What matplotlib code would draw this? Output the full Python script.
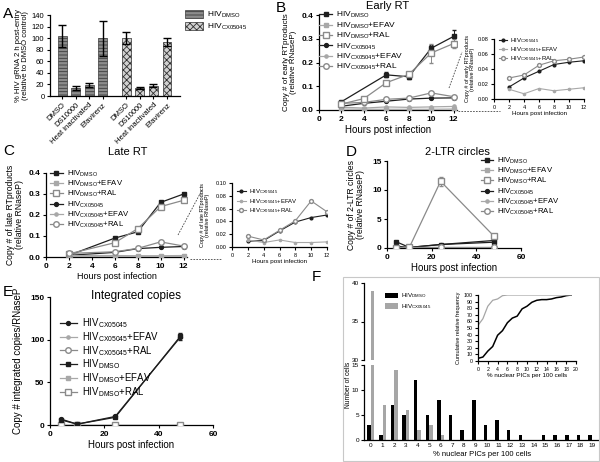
import matplotlib
matplotlib.use('Agg')
import matplotlib.pyplot as plt
from matplotlib.patches import Patch, Rectangle
from matplotlib.lines import Line2D
import numpy as np

plt.rcParams['font.family'] = ['Liberation Sans', 'DejaVu Sans']
plt.rcParams['mathtext.default'] = 'regular'
plt.rcParams['hatch.linewidth'] = 0.6

W, H = 600, 462

# ---- data ----
a_labels = ['DMSO', 'DS10000', 'Heat inactivated', 'Efavirenz']
a_dmso = [103, 14, 19, 100]
a_dmso_err = [19, 3, 4, 30]
a_cx = [100, 14, 18, 94]
a_cx_err = [10, 2, 2, 7]

b_hours = [2, 4, 6, 8, 10, 12]
b_hours_dmso = [2, 6, 8, 10, 12]
b_dmso = [0.035, 0.148, 0.14, 0.26, 0.31]
b_dmso_err = [0.004, 0.01, 0.008, 0.015, 0.025]
b_dmso_efav = [0.004, 0.003, 0.003, 0.003, 0.003, 0.004]
b_dmso_ral = [0.025, 0.048, 0.115, 0.15, 0.24, 0.28]
b_dmso_ral_err = [0.003, 0.004, 0.006, 0.008, 0.04, 0.02]
b_cx = [0.016, 0.028, 0.037, 0.046, 0.05, 0.051]
b_cx_efav = [0.012, 0.008, 0.013, 0.011, 0.013, 0.015]
b_cx_ral = [0.028, 0.032, 0.045, 0.05, 0.072, 0.056]

bi_cx = [0.016, 0.028, 0.037, 0.046, 0.049, 0.051]
bi_cx_efav = [0.013, 0.007, 0.014, 0.011, 0.013, 0.015]
bi_cx_ral = [0.028, 0.032, 0.045, 0.051, 0.053, 0.056]

c_hours = [2, 6, 8, 10, 12]
c_dmso = [0.008, 0.09, 0.12, 0.26, 0.30]
c_dmso_efav = [0.003, 0.003, 0.003, 0.003, 0.003]
c_dmso_ral = [0.015, 0.068, 0.135, 0.24, 0.27]
c_cx = [0.008, 0.022, 0.04, 0.046, 0.05]
c_cx_efav = [0.007, 0.007, 0.006, 0.006, 0.007]
c_cx_ral = [0.017, 0.025, 0.041, 0.072, 0.052]

ci_hours = [2, 4, 6, 8, 10, 12]
ci_cx = [0.009, 0.010, 0.025, 0.039, 0.046, 0.050]
ci_cx_efav = [0.011, 0.007, 0.011, 0.007, 0.007, 0.008]
ci_cx_ral = [0.017, 0.011, 0.026, 0.041, 0.072, 0.055]

d_hours = [4, 10, 24, 48]
d_dmso = [1.1, 0.1, 0.6, 1.0]
d_dmso_efav = [0.05, 0.05, 0.05, 0.05]
d_dmso_ral = [0.05, 0.1, 11.5, 2.0]
d_cx = [0.3, 0.1, 0.6, 1.3]
d_cx_efav = [0.05, 0.05, 0.05, 0.05]
d_cx_ral = [0.05, 0.1, 0.1, 0.1]

e_hours = [4, 10, 24, 48]
e_cx = [7, 1, 10, 103]
e_cx_efav = [0.5, 0.5, 0.5, 0.5]
e_cx_ral = [0.5, 0.5, 0.5, 0.5]
e_dmso = [6, 1, 9, 104]
e_dmso_efav = [0.5, 0.5, 0.5, 0.5]
e_dmso_ral = [0.5, 0.5, 0.5, 0.5]

f_bins = list(range(20))
f_dmso = [3, 1, 7, 5, 12, 5, 8, 5, 2, 8, 3, 4, 2, 1, 0, 1, 1, 1, 1, 1]
f_cx = [39, 7, 14, 6, 2, 3, 1, 0, 0, 0, 0, 0, 0, 0, 0, 0, 0, 0, 0, 0]
f_cum_dmso = [4, 6, 15, 22, 39, 46, 58, 65, 68, 79, 83, 89, 92, 93, 93, 94, 96, 97, 99, 100]
f_cum_cx = [54, 64, 83, 92, 94, 99, 100, 100, 100, 100, 100, 100, 100, 100, 100, 100, 100, 100, 100, 100]

L_DMSO = 'HIV$_{DMSO}$'
L_CX = 'HIV$_{CX05045}$'
LABELS = {
    'dmso': L_DMSO, 'dmso_efav': L_DMSO + '+EFAV', 'dmso_ral': L_DMSO + '+RAL',
    'cx': L_CX, 'cx_efav': L_CX + '+EFAV', 'cx_ral': L_CX + '+RAL',
}

fig = plt.figure(figsize=(6, 4.62), dpi=100)


def add_ax(l, t, r, b):
    return fig.add_axes([l / W, 1 - b / H, (r - l) / W, (b - t) / H])


def prism(ax, fs=5.5, bold=True, pad=1.5):
    for s in ('top', 'right'):
        ax.spines[s].set_visible(False)
    for s in ('left', 'bottom'):
        ax.spines[s].set_linewidth(0.9)
    ax.tick_params(direction='out', length=2.5, width=0.8, labelsize=fs, pad=pad)
    if bold:
        for t in ax.get_xticklabels() + ax.get_yticklabels():
            t.set_fontweight('bold')


STY = {
    'dmso': dict(color='#1e1e1e', marker='s', ms=3.5, mfc='#1e1e1e', mec='#1e1e1e'),
    'dmso_efav': dict(color='#a8a8a8', marker='s', ms=2.8, mfc='#a8a8a8', mec='#a8a8a8'),
    'dmso_ral': dict(color='#8a8a8a', marker='s', ms=4, mfc='white', mec='#8a8a8a'),
    'cx': dict(color='#1e1e1e', marker='o', ms=2.8, mfc='#1e1e1e', mec='#1e1e1e'),
    'cx_efav': dict(color='#a8a8a8', marker='o', ms=2.3, mfc='#a8a8a8', mec='#a8a8a8'),
    'cx_ral': dict(color='#8a8a8a', marker='o', ms=4, mfc='white', mec='#8a8a8a'),
}


def series(ax, x, y, key, lw=0.9, yerr=None, scale=1.0):
    st = dict(STY[key])
    st['ms'] = st['ms'] * scale
    if yerr is not None:
        ax.errorbar(x, y, yerr=yerr, lw=lw, capsize=1.5, elinewidth=0.7,
                    zorder=3, **st)
    else:
        ax.plot(x, y, lw=lw, zorder=3, **st)


def legend_keys(ax, keys, fs, spacing, anchor, hl=1.6, scale=1.0, lw=0.9):
    handles = []
    for k in keys:
        st = dict(STY[k])
        st['ms'] = st['ms'] * scale
        handles.append(Line2D([], [], lw=lw, **st))
    ax.legend(handles, [LABELS[k] for k in keys], loc='upper left',
              bbox_to_anchor=anchor, frameon=False, fontsize=fs,
              labelspacing=spacing, handlelength=hl, handletextpad=0.5,
              borderpad=0, borderaxespad=0)


def fig_line(x0, y0, x1, y1):
    fig.add_artist(Line2D([x0 / W, x1 / W], [1 - y0 / H, 1 - y1 / H],
                          color='#444444', lw=0.6, ls=(0, (2, 1.5))))


def panel_letter(x, y, s):
    fig.text(x / W, 1 - y / H, s, fontsize=11, ha='left', va='center')


ALL6 = ['dmso', 'dmso_efav', 'dmso_ral', 'cx', 'cx_efav', 'cx_ral']
CX3 = ['cx', 'cx_efav', 'cx_ral']

# ---- A ----
axA = add_ax(50, 15, 180, 96)
xa1 = [0, 1, 2, 3]
xa2 = [4.75, 5.75, 6.75, 7.75]
axA.bar(xa1, a_dmso, width=0.66, color='#8c8c8c', edgecolor='#3a3a3a',
        hatch='-----', lw=0.5, zorder=2)
axA.bar(xa2, a_cx, width=0.66, color='#d0d0d0', edgecolor='#303030',
        hatch='xxxxx', lw=0.5, zorder=2)
axA.errorbar(xa1, a_dmso, yerr=a_dmso_err, fmt='none', ecolor='black',
             elinewidth=1, capsize=3, capthick=1, zorder=3)
axA.errorbar(xa2, a_cx, yerr=a_cx_err, fmt='none', ecolor='black',
             elinewidth=1, capsize=3, capthick=1, zorder=3)
axA.set_xlim(-0.89, 8.71)
axA.set_ylim(0, 140)
axA.set_yticks(range(0, 141, 20))
axA.set_xticks(xa1 + xa2)
axA.set_xticklabels(a_labels + a_labels, rotation=45, ha='right',
                    rotation_mode='anchor')
prism(axA, fs=5.5, bold=False)
axA.set_ylabel('% HIV gRNA 2 h post-entry\n(relative to DMSO control)',
               fontsize=5.5, labelpad=2, linespacing=1.0)
fig.legend([Patch(facecolor='#8c8c8c', edgecolor='#3a3a3a', hatch='-----', lw=0.5),
            Patch(facecolor='#d0d0d0', edgecolor='#303030', hatch='xxxxx', lw=0.5)],
           [L_DMSO, L_CX], loc='upper left', bbox_to_anchor=(185 / W, 1 - 10 / H),
           frameon=False, fontsize=6, handlelength=2.2, handleheight=1.0,
           labelspacing=0.2, handletextpad=0.4, borderpad=0, borderaxespad=0)
panel_letter(3, 14, 'A')

# ---- B ----
axB = add_ax(319, 15, 457, 110)
series(axB, b_hours_dmso, b_dmso, 'dmso', yerr=b_dmso_err)
series(axB, b_hours, b_dmso_efav, 'dmso_efav')
series(axB, b_hours, b_dmso_ral, 'dmso_ral', yerr=b_dmso_ral_err)
series(axB, b_hours, b_cx, 'cx')
series(axB, b_hours, b_cx_efav, 'cx_efav')
series(axB, b_hours, b_cx_ral, 'cx_ral')
axB.set_xlim(0, 12.3)
axB.set_ylim(0, 0.4)
axB.set_xticks(range(0, 13, 2))
axB.set_yticks([0, 0.1, 0.2, 0.3, 0.4])
axB.set_yticklabels(['0.0', '0.1', '0.2', '0.3', '0.4'])
prism(axB, fs=6)
axB.set_xlabel('Hours post infection', fontsize=7, labelpad=2)
axB.set_ylabel('Copy # of early RTproducts\n(relative RNaseP)', fontsize=5.8,
               labelpad=3, linespacing=1.0)
axB.set_title('Early RT', fontsize=8, pad=4)
legend_keys(axB, ALL6, 6, 0.02, (0.0, 1.05))
panel_letter(276, 8, 'B')

axBi = add_ax(494, 39, 584, 99)
series(axBi, b_hours, bi_cx, 'cx', lw=0.8, scale=0.7)
series(axBi, b_hours, bi_cx_efav, 'cx_efav', lw=0.8, scale=0.7)
series(axBi, b_hours, bi_cx_ral, 'cx_ral', lw=0.8, scale=0.7)
axBi.set_xlim(0, 12)
axBi.set_ylim(0, 0.08)
axBi.set_xticks(range(0, 13, 2))
axBi.set_yticks([0, 0.02, 0.04, 0.06, 0.08])
axBi.set_yticklabels(['0.00', '0.02', '0.04', '0.06', '0.08'])
prism(axBi, fs=4, bold=False)
axBi.set_xlabel('Hours post infection', fontsize=4.5, labelpad=1)
axBi.set_ylabel('Copy # of early RTproducts\n(relative RNaseP)', fontsize=4,
                labelpad=2, linespacing=1.0)
legend_keys(axBi, CX3, 4.3, 0.05, (0.05, 1.05), hl=1.5, scale=0.7, lw=0.8)
fig_line(449, 88, 462, 52)
fig_line(458, 111, 500, 111)

# ---- C ----
axC = add_ax(46, 173, 187, 257)
series(axC, c_hours, c_dmso, 'dmso')
series(axC, c_hours, c_dmso_efav, 'dmso_efav')
series(axC, c_hours, c_dmso_ral, 'dmso_ral')
series(axC, c_hours, c_cx, 'cx')
series(axC, c_hours, c_cx_efav, 'cx_efav')
series(axC, c_hours, c_cx_ral, 'cx_ral')
axC.set_xlim(0, 12.3)
axC.set_ylim(0, 0.4)
axC.set_xticks(range(0, 13, 2))
axC.set_yticks([0, 0.1, 0.2, 0.3, 0.4])
axC.set_yticklabels(['0.0', '0.1', '0.2', '0.3', '0.4'])
prism(axC, fs=6)
axC.set_xlabel('Hours post infection', fontsize=6.5, labelpad=2)
axC.set_ylabel('Copy # of late RTproducts\n(relative RNaseP)', fontsize=6.2,
               labelpad=3, linespacing=1.0)
fig.text(128 / W, 1 - 152 / H, 'Late RT', fontsize=8, ha='center', va='center')
legend_keys(axC, ALL6, 5.6, 0.0, (0.03, 1.05))
panel_letter(3, 151, 'C')

axCi = add_ax(232, 183, 327, 247)
series(axCi, ci_hours, ci_cx, 'cx', lw=0.8, scale=0.7)
series(axCi, ci_hours, ci_cx_efav, 'cx_efav', lw=0.8, scale=0.7)
series(axCi, ci_hours, ci_cx_ral, 'cx_ral', lw=0.8, scale=0.7)
axCi.set_xlim(0, 12)
axCi.set_ylim(0, 0.10)
axCi.set_xticks(range(0, 13, 2))
axCi.set_yticks([0, 0.02, 0.04, 0.06, 0.08, 0.10])
axCi.set_yticklabels(['0.00', '0.02', '0.04', '0.06', '0.08', '0.10'])
prism(axCi, fs=4, bold=False)
axCi.set_xlabel('Hours post infection', fontsize=4.5, labelpad=1)
axCi.set_ylabel('Copy # of late RTproducts\n(relative RNaseP)', fontsize=4,
                labelpad=4, linespacing=1.0)
legend_keys(axCi, CX3, 4.3, 0.05, (0.05, 0.93), hl=1.5, scale=0.7, lw=0.8)
fig_line(178, 235, 202, 190)
fig_line(190, 259, 222, 259)

# ---- D ----
axD = add_ax(387, 161, 521, 248)
series(axD, d_hours, d_dmso, 'dmso')
series(axD, d_hours, d_dmso_efav, 'dmso_efav')
series(axD, d_hours, d_dmso_ral, 'dmso_ral', yerr=[0, 0, 0.8, 0.3])
series(axD, d_hours, d_cx, 'cx')
series(axD, d_hours, d_cx_efav, 'cx_efav')
series(axD, d_hours, d_cx_ral, 'cx_ral')
axD.set_xlim(0, 60)
axD.set_ylim(0, 15)
axD.set_xticks([0, 20, 40, 60])
axD.set_yticks([0, 5, 10, 15])
prism(axD, fs=6)
axD.set_xlabel('Hours post infection', fontsize=7, labelpad=2)
axD.set_ylabel('Copy # of 2-LTR circles\n(relative RNaseP)', fontsize=6.2,
               labelpad=5, linespacing=1.0)
fig.text(457 / W, 1 - 152 / H, '2-LTR circles', fontsize=8, ha='center', va='center')
legend_keys(axD, ALL6, 5.6, 0.0, (0.70, 1.06))
panel_letter(346, 152, 'D')

# ---- E ----
axE = add_ax(50, 297, 213, 425)
series(axE, e_hours, e_cx, 'cx')
series(axE, e_hours, e_cx_efav, 'cx_efav')
series(axE, e_hours, e_cx_ral, 'cx_ral')
series(axE, e_hours, e_dmso, 'dmso', yerr=[1, 0.3, 1, 4])
series(axE, e_hours, e_dmso_efav, 'dmso_efav')
series(axE, e_hours, e_dmso_ral, 'dmso_ral')
axE.set_xlim(0, 60)
axE.set_ylim(0, 150)
axE.set_xticks([0, 20, 40, 60])
axE.set_yticks([0, 50, 100, 150])
prism(axE, fs=6)
axE.set_xlabel('Hours post infection', fontsize=7, labelpad=2)
axE.set_ylabel('Copy # integrated copies/RNaseP', fontsize=7, labelpad=5)
fig.text(136 / W, 1 - 296 / H, 'Integrated copies', fontsize=8.5, ha='center', va='center')
legend_keys(axE, ['cx', 'cx_efav', 'cx_ral', 'dmso', 'dmso_efav', 'dmso_ral'],
            6.9, 0.0, (0.06, 0.85), hl=1.8)
panel_letter(3, 292, 'E')

# ---- F ----
fig.add_artist(Rectangle((343 / W, 1 - 461 / H), 256 / W, 184 / H,
                         transform=fig.transFigure, fill=False,
                         edgecolor='#c8c8c8', lw=0.8))
panel_letter(312, 277, 'F')
xf = np.array(f_bins)
bw = 0.3
axF = add_ax(364, 365, 600, 440)
axF.bar(xf - bw / 2, f_dmso, width=bw, color='black', zorder=2)
axF.bar(xf + bw / 2, f_cx, width=bw, color='#a6a6a6', zorder=2)
axF.set_xlim(-0.6, 19.7)
axF.set_ylim(0, 15)
axF.set_yticks([0, 5, 10, 15])
axF.set_xticks(f_bins)
prism(axF, fs=4.6, bold=False, pad=1)
axF.tick_params(axis='x', length=0, pad=2)
axF.set_xlabel('% nuclear PICs per 100 cells', fontsize=5.5, labelpad=2)

axFt = add_ax(364, 283, 600, 360)
axFt.bar(xf - bw / 2, f_dmso, width=bw, color='black', zorder=2)
axFt.bar(xf + bw / 2, f_cx, width=bw, color='#a6a6a6', zorder=2)
axFt.set_xlim(-0.6, 19.7)
axFt.set_ylim(30, 40)
axFt.set_yticks([30, 35, 40])
prism(axFt, fs=4.6, bold=False, pad=1)
axFt.spines['bottom'].set_visible(False)
axFt.set_xticks([])
fig.text(348 / W, 1 - 385 / H, 'Number of cells', fontsize=4.8, rotation=90,
         ha='center', va='center')
axFt.legend([Patch(facecolor='black'), Patch(facecolor='#a6a6a6')],
            [L_DMSO, L_CX], loc='upper left', bbox_to_anchor=(0.09, 0.89),
            frameon=False, fontsize=4.5, handlelength=2.0, handleheight=0.9,
            labelspacing=0.3, handletextpad=0.5, borderpad=0, borderaxespad=0)

axFi = add_ax(478, 295, 576, 361)
axFi.plot(xf, f_cum_dmso, color='black', lw=1.1)
axFi.plot(xf, f_cum_cx, color='#a6a6a6', lw=0.9)
axFi.set_xlim(0, 20)
axFi.set_ylim(0, 100)
axFi.set_xticks(range(0, 21, 2))
axFi.set_yticks(range(0, 101, 10))
prism(axFi, fs=3.8, bold=False)
axFi.set_xlabel('% nuclear PICs per 100 cells', fontsize=4.5, labelpad=1)
axFi.set_ylabel('Cumulative relative frequency', fontsize=4, labelpad=2)

fig.savefig('out.png', dpi=100)
